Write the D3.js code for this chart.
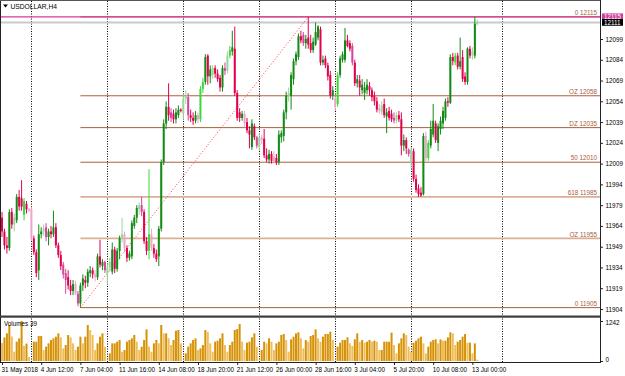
<!DOCTYPE html>
<html><head><meta charset="utf-8">
<script src="https://cdn.jsdelivr.net/npm/d3@7"></script>
<style>body{margin:0;background:#fff}svg{display:block}</style>
</head><body><svg id="c" width="625" height="376"></svg>
<script>
const symbol = "USDOLLAR,H4";
const volumeTitle = "Volumes 39";
const opens = [11970,11960,11950,11948,11974,11965,11968,11985,11984,11972,11980,11976,11976,11955,11945,11932,11958,11960,11963,11956,11960,11958,11963,11950,11943,11936,11930,11927,11921,11917,11922,11915,11908,11921,11925,11923,11930,11932,11929,11927,11942,11935,11938,11930,11934,11931,11947,11933,11946,11955,11958,11948,11941,11942,11964,11970,11976,11979,11974,11953,11946,11958,11948,11944,11942,11962,12010,12038,12050,12046,12045,12041,12044,12048,12045,12056,12057,12044,12042,12040,12044,12041,12063,12068,12087,12072,12073,12078,12074,12071,12064,12078,12076,12087,12090,12092,12060,12046,12042,12045,12039,12033,12021,12036,12028,12021,12028,12027,12015,12012,12016,12014,12013,12010,12028,12029,12046,12058,12058,12070,12083,12086,12101,12102,12096,12100,12096,12091,12095,12100,12106,12082,12085,12080,12073,12058,12056,12052,12073,12084,12084,12098,12096,12094,12082,12067,12069,12062,12060,12062,12065,12062,12058,12054,12049,12046,12052,12043,12047,12045,12042,12040,12044,12041,12022,12026,12019,12010,12018,11998,11991,11988,11987,12029,12013,12022,12030,12038,12024,12034,12038,12042,12054,12053,12086,12082,12087,12079,12086,12072,12068,12092,12087,12087,12110];
const highs = [11974,11962,11956,11976,11977,11973,11987,11990,11997,11984,11982,11977,11978,11957,11947,11965,11963,11965,11966,11962,11964,11975,11966,11952,11946,11938,11933,11932,11925,11925,11924,11917,11923,11929,11928,11933,11935,11934,11932,11944,11954,11940,11939,11936,11941,11952,11949,11948,11957,11970,11960,11950,11946,11968,11972,11979,11981,11985,11976,11956,12005,11962,11951,11947,11964,12012,12041,12054,12067,12049,12048,12049,12051,12049,12059,12062,12060,12048,12046,12047,12046,12065,12071,12088,12088,12080,12080,12080,12077,12073,12080,12082,12090,12094,12105,12108,12062,12049,12047,12047,12042,12036,12041,12038,12029,12031,12030,12034,12020,12019,12018,12018,12016,12033,12033,12048,12061,12064,12075,12085,12090,12103,12105,12104,12102,12115,12102,12100,12111,12109,12108,12087,12087,12082,12076,12065,12058,12075,12087,12090,12107,12102,12098,12096,12084,12073,12073,12070,12068,12070,12068,12064,12061,12057,12052,12054,12056,12049,12050,12048,12046,12046,12047,12046,12030,12028,12020,12021,12020,12001,11994,11992,12031,12032,12026,12040,12052,12040,12038,12043,12050,12056,12057,12088,12089,12089,12089,12100,12091,12075,12093,12094,12093,12115,12113];
const lows = [11956,11947,11944,11946,11962,11960,11966,11975,11975,11968,11973,11974,11953,11943,11927,11925,11955,11957,11953,11950,11955,11956,11948,11941,11932,11926,11915,11918,11914,11914,11914,11906,11905,11917,11919,11920,11927,11926,11924,11925,11934,11932,11930,11922,11931,11929,11930,11931,11940,11952,11945,11938,11939,11940,11962,11966,11972,11971,11951,11943,11940,11946,11941,11938,11935,11960,12008,12034,12040,12039,12038,12038,12042,12046,12041,12052,12040,12039,12037,12038,12038,12039,12060,12066,12066,12067,12070,12071,12068,12061,12061,12073,12074,12085,12087,12058,12040,12039,12040,12035,12031,12020,12019,12026,12020,12018,12023,12013,12010,12009,12009,12009,12008,12008,12024,12025,12041,12054,12048,12066,12080,12084,12096,12094,12092,12092,12089,12089,12094,12098,12080,12080,12078,12069,12056,12055,12047,12050,12071,12082,12082,12093,12090,12080,12065,12064,12058,12059,12055,12059,12058,12054,12051,12046,12045,12044,12042,12031,12040,12039,12038,12038,12039,12015,12018,12016,12014,12006,11996,11988,11985,11985,11986,12011,12011,12020,12028,12024,12018,12030,12034,12040,12050,12052,12080,12080,12077,12077,12068,12066,12066,12085,12084,12085,12109];
const closes = [11960,11950,11948,11974,11965,11970,11985,11978,11978,11982,11976,11975,11955,11945,11930,11958,11960,11962,11956,11960,11958,11963,11950,11943,11935,11929,11925,11921,11917,11922,11915,11908,11921,11926,11923,11931,11932,11929,11927,11942,11936,11938,11932,11934,11938,11947,11933,11946,11955,11958,11948,11941,11944,11966,11970,11977,11979,11974,11953,11946,11958,11948,11944,11940,11962,12010,12038,12050,12044,12042,12041,12046,12048,12047,12056,12058,12044,12042,12040,12044,12041,12063,12068,12086,12072,12077,12078,12074,12070,12064,12078,12076,12087,12091,12093,12060,12042,12042,12045,12038,12033,12030,12038,12028,12022,12028,12026,12015,12012,12016,12011,12010,12010,12030,12031,12046,12058,12060,12073,12083,12088,12101,12098,12096,12099,12095,12091,12097,12104,12108,12082,12084,12080,12072,12058,12062,12050,12073,12085,12088,12098,12094,12092,12082,12067,12070,12064,12066,12064,12066,12062,12057,12054,12048,12047,12051,12044,12046,12042,12041,12040,12044,12041,12022,12026,12020,12016,12019,11998,11990,11987,11986,12029,12013,12024,12034,12040,12026,12036,12040,12047,12054,12053,12086,12083,12087,12079,12083,12070,12068,12092,12087,12090,12110,12111];
const volumes = [560,730,860,1120,760,290,600,700,1240,470,540,120,10,
600,600,776,776,341,445,548,652,704,755,859,734,393,497,807,734,548,341,445,755,548,755,1118,962,807,341,548,755,859,445,10,
238,548,548,600,652,290,341,600,652,704,807,600,341,445,652,983,445,290,548,652,548,1118,859,859,704,497,652,941,962,548,10,
238,445,548,652,704,341,393,497,962,911,548,290,600,631,704,859,497,290,497,600,962,993,1147,600,341,569,600,734,859,445,10,
341,600,548,704,600,341,548,600,807,838,652,290,673,755,859,890,704,393,652,600,776,807,983,704,600,755,838,838,911,652,10,
445,569,652,652,734,548,466,673,859,600,652,569,600,652,600,631,600,341,341,600,600,600,880,497,238,548,704,859,807,445,290,
569,631,704,755,548,238,445,600,652,673,548,673,631,631,734,890,859,497,600,652,755,838,569,569,238,548,39];
const timeLabels = ["31 May 2018","4 Jun 12:00","7 Jun 04:00","11 Jun 16:00","14 Jun 08:00","18 Jun 20:00","21 Jun 12:00","26 Jun 00:00","28 Jun 16:00","3 Jul 04:00","5 Jul 20:00","10 Jul 08:00","13 Jul 00:00"];
const timeLabelBars = [0,16,32,48,64,80,96,112,128,144,160,176,192];
const priceTicks = [12099,12084,12069,12054,12039,12024,12009,11994,11979,11964,11949,11934,11919,11904];
const volumeTicks = [1242,0];
const gridBars = [12,43,74,105,136,167,204];
const fibNames = ["0","OZ","DZ","50","618","OZ","0"];
const fibLevels = [12115,12058,12035,12010,11985,11955,11905];
const fibStartBar = 32, fibEndBar = 125;
const askPrice = 12115, bidPrice = 12111;

const FONT = "'Liberation Sans', Arial, sans-serif";
const FS = 6.3;
const svg = d3.select("#c");
const n = closes.length;
const bars = d3.range(n).map(i => ({i, o: opens[i], h: highs[i], l: lows[i], c: closes[i], v: volumes[i]}));

const PL = 1, PR = 600, MT = 1, MB = 315, VT = 318, VB = 362;
const x = d3.scaleLinear().domain([0, 1]).range([2, 4.45]);
const y = d3.scaleLinear().domain([11904, 12099]).range([309, 39]);
const yv = d3.scaleLinear().domain([0, 1242]).range([361, 321]);

const defs = svg.append("defs");
defs.append("clipPath").attr("id","cm").append("rect").attr("x",PL).attr("y",MT).attr("width",PR-PL).attr("height",MB-MT);
defs.append("clipPath").attr("id","cv").append("rect").attr("x",PL).attr("y",VT).attr("width",PR-PL).attr("height",VB-VT);

// grid (dotted verticals through both panels)
svg.append("g").selectAll("line").data(gridBars).join("line")
  .attr("x1", d => Math.round(x(d)) + 0.5).attr("x2", d => Math.round(x(d)) + 0.5)
  .attr("y1", MT).attr("y2", VB)
  .attr("stroke", "#000").attr("stroke-width", 1).attr("stroke-dasharray", "1,1.5");

const main = svg.append("g").attr("clip-path","url(#cm)");

// fibonacci levels
const fibG = main.append("g");
fibG.selectAll("line").data(fibLevels).join("line")
  .attr("x1", x(fibStartBar)).attr("x2", PR)
  .attr("y1", d => y(d)).attr("y2", d => y(d))
  .attr("stroke", (d,k) => (k === 4 || k === 5) ? "#dcae96" : "#a8613c")
  .attr("stroke-width", (d,k) => (k === 4 || k === 5) ? 1.6 : 1);

// bid line & ask line
main.append("line").attr("x1", PL).attr("x2", PR).attr("y1", y(bidPrice)).attr("y2", y(bidPrice))
  .attr("stroke", "#c6cacf").attr("stroke-width", 2);
main.append("line").attr("x1", PL).attr("x2", PR).attr("y1", y(askPrice)).attr("y2", y(askPrice))
  .attr("stroke", "#d4399c").attr("stroke-width", 1.4);

// fib trend line
main.append("line")
  .attr("x1", x(fibStartBar)).attr("y1", y(fibLevels[fibLevels.length-1]))
  .attr("x2", x(fibEndBar)).attr("y2", y(fibLevels[0]))
  .attr("stroke", "#ff3b3b").attr("stroke-width", 1).attr("stroke-dasharray", "1,2");

fibG.selectAll("text").data(fibLevels).join("text")
  .attr("x", 597).attr("y", d => y(d) - 1.8)
  .attr("text-anchor", "end").attr("font-family", FONT).attr("font-size", FS)
  .attr("fill", "#a8613c")
  .text((d,k) => fibNames[k] + " " + d);

// candles
function candleColor(d) {
  const up = d.c >= d.o;
  const lvl = d.v > 520 ? 0 : d.v > 380 ? 1 : 2;
  return up ? ["#138a17", "#3bd93b", "#98d898"][lvl] : ["#e3004d", "#d2469b", "#eda6cb"][lvl];
}
const cg = main.append("g");
cg.selectAll("line").data(bars).join("line")
  .attr("x1", d => x(d.i)).attr("x2", d => x(d.i))
  .attr("y1", d => y(d.h)).attr("y2", d => y(d.l))
  .attr("stroke", candleColor).attr("stroke-width", 1);
cg.selectAll("rect").data(bars).join("rect")
  .attr("x", d => x(d.i) - 1).attr("width", 2)
  .attr("y", d => Math.min(y(d.o), y(d.c)))
  .attr("height", d => Math.max(1, Math.abs(y(d.o) - y(d.c))))
  .attr("fill", candleColor);

// volume bars
const vg = svg.append("g").attr("clip-path","url(#cv)");
vg.selectAll("rect").data(bars).join("rect")
  .attr("x", d => x(d.i) - 1).attr("width", 2)
  .attr("y", d => yv(d.v)).attr("height", d => yv(0) - yv(d.v))
  .attr("fill", (d) => (d.i > 0 && d.v >= volumes[d.i-1]) ? "#d69206" : "#efbd5c");

// frame
svg.append("line").attr("x1", 0.5).attr("x2", 0.5).attr("y1", 0).attr("y2", VB).attr("stroke", "#222");
svg.append("line").attr("x1", 0).attr("x2", PR).attr("y1", 0.5).attr("y2", 0.5).attr("stroke", "#555");
svg.append("rect").attr("x", 0).attr("y", 315.5).attr("width", PR + 1).attr("height", 2.2).attr("fill", "#3d3d3d");
svg.append("line").attr("x1", 0).attr("x2", PR + 1).attr("y1", VB + 0.5).attr("y2", VB + 0.5).attr("stroke", "#222");
svg.append("line").attr("x1", PR + 0.5).attr("x2", PR + 0.5).attr("y1", 0).attr("y2", VB + 1).attr("stroke", "#222");

// price axis
const pa = svg.append("g").attr("transform", `translate(${PR},0)`)
  .call(d3.axisRight(y).tickValues(priceTicks).tickSize(3).tickPadding(2.5).tickFormat(d3.format("d")));
pa.select(".domain").remove();
pa.attr("font-family", FONT).attr("font-size", FS);
pa.selectAll("line").attr("stroke", "#222");

// volume axis
const va = svg.append("g").attr("transform", `translate(${PR},0)`)
  .call(d3.axisRight(yv).tickValues(volumeTicks).tickSize(3).tickPadding(2.5).tickFormat(d3.format("d")));
va.select(".domain").remove();
va.attr("font-family", FONT).attr("font-size", FS);
va.selectAll("line").attr("stroke", "#222");
va.selectAll(".tick").filter(d => d === 0).select("text").attr("dy", "0.05em");
va.selectAll(".tick").filter(d => d === 1242).select("text").attr("dy", "0.5em");

// time axis
const ta = svg.append("g").attr("transform", `translate(0,${VB})`)
  .call(d3.axisBottom(x).tickValues(timeLabelBars).tickSize(3).tickPadding(2.5).tickFormat((d,k) => timeLabels[k]));
ta.select(".domain").remove();
ta.attr("font-family", FONT).attr("font-size", FS);
ta.selectAll("line").attr("stroke", "#222");
ta.selectAll("text").attr("text-anchor", "start").attr("dx", -1);

// current price boxes
const boxes = [{p: askPrice, fill: "#d4399c"}, {p: bidPrice, fill: "#000"}];
const bg = svg.append("g");
bg.selectAll("rect").data(boxes).join("rect")
  .attr("x", PR + 2).attr("y", d => y(d.p) - 3.4).attr("width", 21).attr("height", 6.8)
  .attr("fill", d => d.fill);
bg.selectAll("text").data(boxes).join("text")
  .attr("x", PR + 4).attr("y", d => y(d.p) + 2.2)
  .attr("font-family", FONT).attr("font-size", FS).attr("fill", "#fff")
  .text(d => d.p);

// title
svg.append("path").attr("d", "M3,4.5 L8,4.5 L5.5,7.5 Z").attr("fill", "#000");
svg.append("text").attr("x", 10.5).attr("y", 8.6).attr("font-family", FONT).attr("font-size", FS + 0.4)
  .attr("fill", "#000").text(symbol);
svg.append("text").attr("x", 4).attr("y", 325.5).attr("font-family", FONT).attr("font-size", FS)
  .attr("fill", "#000").text(volumeTitle);
</script>
</body></html>
